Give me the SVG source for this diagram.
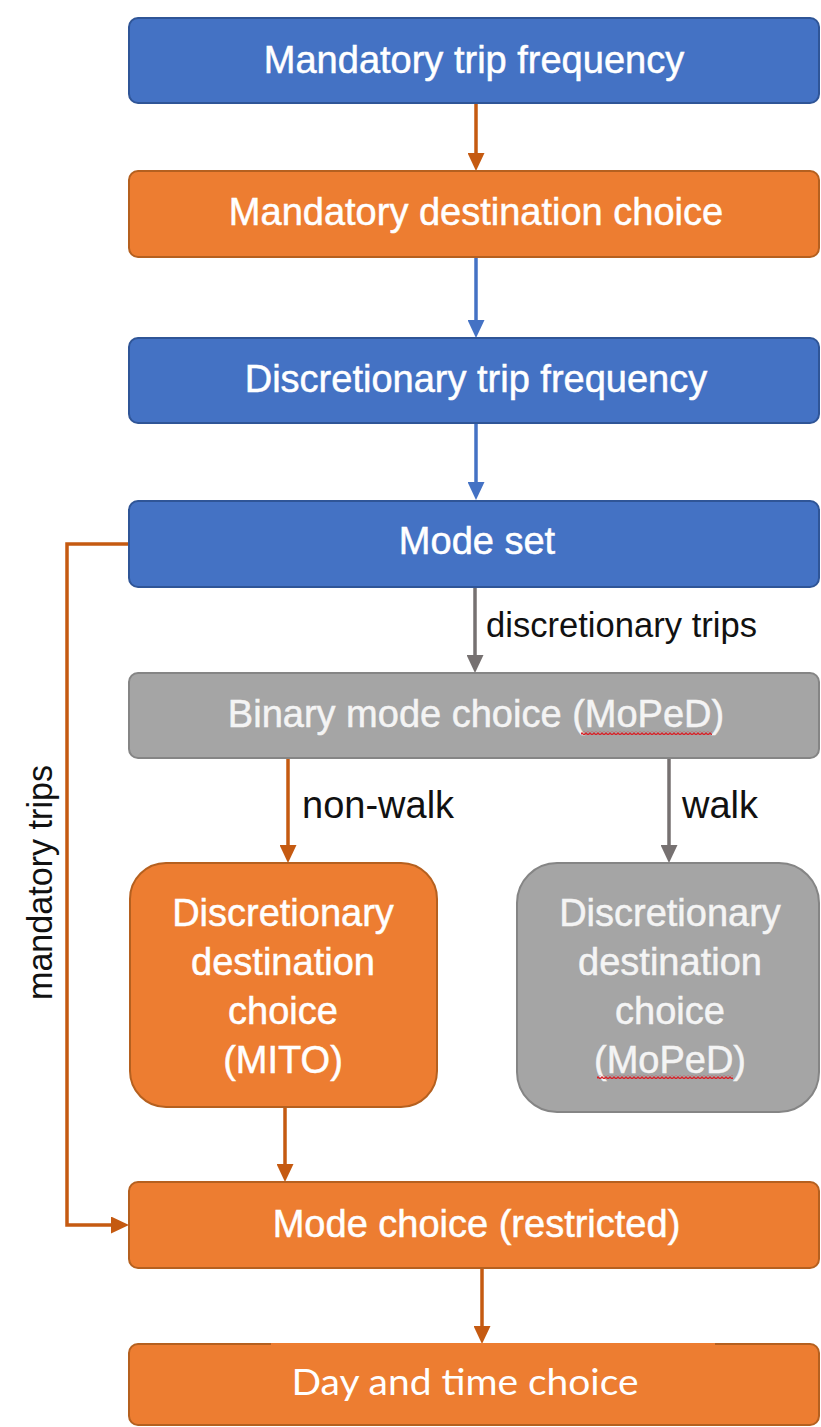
<svg xmlns="http://www.w3.org/2000/svg" width="821" height="1427" viewBox="0 0 821 1427">
<style>
.blue{fill:#4472c4;stroke:#2f5597;stroke-width:2}
.orange{fill:#ed7d31;stroke:#b5601f;stroke-width:2}
.grey{fill:#a5a5a5;stroke:#858585;stroke-width:2}
.t{font-family:"Liberation Sans",Arial,Helvetica,sans-serif;font-size:38px;fill:#ffffff;stroke:#ffffff;stroke-width:0.5;text-anchor:middle}
.tg{fill:#f4f4f4;stroke:#f4f4f4}
.lbl{font-family:"Liberation Sans",Arial,Helvetica,sans-serif;fill:#111111}
.c{fill:none;stroke-width:3.5}
.co{stroke:#c55a11}
.cb{stroke:#4472c4}
.cg{stroke:#767171}
.squig{fill:url(#sq)}
</style>
<defs>
<marker id="ao" markerUnits="userSpaceOnUse" markerWidth="18" markerHeight="17" refX="10" refY="8.5" orient="auto"><path d="M0,0 L18,8.5 L0,17 z" fill="#c55a11"/></marker>
<marker id="ab" markerUnits="userSpaceOnUse" markerWidth="18" markerHeight="17" refX="10" refY="8.5" orient="auto"><path d="M0,0 L18,8.5 L0,17 z" fill="#4472c4"/></marker>
<marker id="ag" markerUnits="userSpaceOnUse" markerWidth="18" markerHeight="17" refX="10" refY="8.5" orient="auto"><path d="M0,0 L18,8.5 L0,17 z" fill="#767171"/></marker>
<pattern id="sq" patternUnits="userSpaceOnUse" width="4" height="4"><path d="M0,3 L2,1 L4,3" fill="none" stroke="#d8232a" stroke-width="1.3"/></pattern>
</defs>

<g id="connectors">
<line class="c co" x1="476" y1="103" x2="476" y2="163" marker-end="url(#ao)"/>
<line class="c cb" x1="476" y1="257" x2="476" y2="330" marker-end="url(#ab)"/>
<line class="c cb" x1="476" y1="423" x2="476" y2="492" marker-end="url(#ab)"/>
<line class="c cg" x1="475" y1="587" x2="475" y2="665" marker-end="url(#ag)"/>
<line class="c co" x1="288" y1="758" x2="288" y2="855" marker-end="url(#ao)"/>
<line class="c cg" x1="669" y1="758" x2="669" y2="855" marker-end="url(#ag)"/>
<line class="c co" x1="285" y1="1107" x2="285" y2="1174" marker-end="url(#ao)"/>
<polyline class="c co" points="129,544 67,544 67,1225 121,1225" marker-end="url(#ao)"/>
<line class="c co" x1="482" y1="1268" x2="482" y2="1336" marker-end="url(#ao)"/>
<text class="lbl" x="486" y="637" font-size="34.5" textLength="271" lengthAdjust="spacingAndGlyphs">discretionary trips</text>
<text class="lbl" x="302" y="818" font-size="38">non-walk</text>
<text class="lbl" x="682" y="818" font-size="38">walk</text>
<text class="lbl" x="52" y="1000" font-size="34.5" transform="rotate(-90 52 1000)" textLength="235" lengthAdjust="spacingAndGlyphs">mandatory trips</text>
</g>

<g id="mandatory-trip-frequency">
<rect class="blue" x="129" y="18" width="690" height="85" rx="9"/>
<text class="t" x="474" y="73">Mandatory trip frequency</text>
</g>

<g id="mandatory-destination-choice">
<rect class="orange" x="129" y="171" width="690" height="86" rx="9"/>
<text class="t" x="476" y="225">Mandatory destination choice</text>
</g>

<g id="discretionary-trip-frequency">
<rect class="blue" x="129" y="338" width="690" height="85" rx="9"/>
<text class="t" x="476" y="392">Discretionary trip frequency</text>
</g>

<g id="mode-set">
<rect class="blue" x="129" y="501" width="690" height="86" rx="9"/>
<text class="t" x="477" y="554">Mode set</text>
</g>

<g id="binary-mode-choice">
<rect class="grey" x="129" y="673" width="690" height="85" rx="9"/>
<text class="t tg" x="476" y="727">Binary mode choice (MoPeD)</text>
<rect class="squig" x="581" y="731" width="131" height="4"/>
</g>

<g id="discretionary-destination-choice-mito">
<rect class="orange" x="130" y="863" width="307" height="244" rx="36"/>
<text class="t" x="283" y="926">Discretionary</text>
<text class="t" x="283" y="975">destination</text>
<text class="t" x="283" y="1024">choice</text>
<text class="t" x="283" y="1073">(MITO)</text>
</g>

<g id="discretionary-destination-choice-moped">
<rect class="grey" x="517" y="863" width="302" height="249" rx="40"/>
<text class="t tg" x="670" y="926">Discretionary</text>
<text class="t tg" x="670" y="975">destination</text>
<text class="t tg" x="670" y="1024">choice</text>
<text class="t tg" x="670" y="1073">(MoPeD)</text>
<rect class="squig" x="597" y="1075" width="136" height="4"/>
</g>

<g id="mode-choice-restricted">
<rect class="orange" x="129" y="1182" width="690" height="86" rx="9"/>
<text class="t" x="476.5" y="1237">Mode choice (restricted)</text>
</g>

<g id="day-and-time-choice">
<rect class="orange" x="129" y="1344" width="690" height="81" rx="9"/>
<rect x="271" y="1343" width="444" height="3" fill="#ed7d31"/>
<text x="465" y="1395" font-family="Lato,'Open Sans',sans-serif" font-size="37" fill="#ffffff" text-anchor="middle" textLength="347" lengthAdjust="spacingAndGlyphs">Day and time choice</text>
</g>
</svg>
